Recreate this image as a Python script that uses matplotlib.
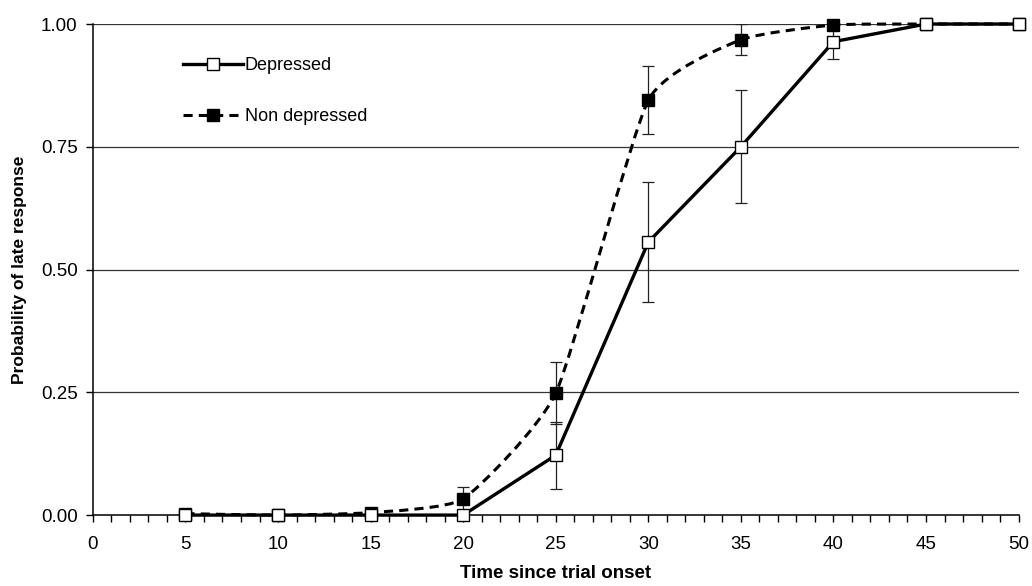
import numpy as np
import matplotlib.pyplot as plt
from matplotlib.path import Path
from matplotlib.patches import PathPatch
from matplotlib.lines import Line2D
from matplotlib.ticker import MultipleLocator, FormatStrFormatter

plt.rcParams['font.family'] = ['Liberation Sans', 'DejaVu Sans']

# values
time = [5, 10, 15, 20, 25, 30, 35, 40, 45, 50]
depressed = [0.0, 0.0, 0.0, 0.0, 0.122, 0.556, 0.750, 0.964, 1.0, 1.0]
depressed_err = [0, 0, 0, 0, 0.068, 0.123, 0.115, 0.036, 0, 0]
non_depressed = [0.003, 0.0, 0.005, 0.033, 0.248, 0.845, 0.968, 0.998, 1.0, 1.0]
non_depressed_err = [0, 0, 0, 0.024, 0.063, 0.069, 0.032, 0.003, 0, 0]


def smooth_path(xs, ys, k=12.0):
    # mildly smoothed line: cubic bezier segments through the points
    p = np.column_stack([xs, ys]).astype(float)
    verts = [p[0]]
    codes = [Path.MOVETO]
    n = len(p)
    for i in range(n - 1):
        prev = p[i - 1] if i > 0 else p[i]
        nxt = p[i + 2] if i + 2 < n else p[i + 1]
        c1 = p[i] + (p[i + 1] - prev) / k
        c2 = p[i + 1] - (nxt - p[i]) / k
        verts += [c1, c2, p[i + 1]]
        codes += [Path.CURVE4] * 3
    return Path(verts, codes)


dash = (0, (3.0, 2.0))

fig = plt.figure(figsize=(10.32, 5.86), dpi=100)
ax = fig.add_axes([0.090, 0.121, 0.897, 0.838])

ax.set_xlim(0, 50)
ax.set_ylim(0, 1)

for yv in [0.25, 0.5, 0.75, 1.0]:
    ax.axhline(yv, color='#333333', lw=0.9, zorder=1)

ax.add_patch(PathPatch(smooth_path(time, non_depressed), fill=False, ec='black',
                       lw=2.2, ls=dash, zorder=3, clip_on=False))
ax.plot(time, depressed, color='black', lw=2.4, zorder=3, clip_on=False)

t = np.array(time)
for vals, errs in [(depressed, depressed_err), (non_depressed, non_depressed_err)]:
    v = np.array(vals)
    e = np.array(errs)
    m = e > 0
    lo = e[m]
    hi = np.minimum(v[m] + e[m], 1.0) - v[m]
    ax.errorbar(t[m], v[m], yerr=[lo, hi], fmt='none', ecolor='#222222',
                elinewidth=0.9, capsize=4, capthick=0.9, zorder=2)

ax.plot(time, non_depressed, ls='none', marker='s', ms=8.5, mfc='black',
        mec='black', zorder=5, clip_on=False)
ax.plot(time, depressed, ls='none', marker='s', ms=8.5, mfc='white',
        mec='black', mew=1.0, zorder=6, clip_on=False)

h1 = Line2D([], [], color='black', lw=2.4, marker='s', ms=8.5, mfc='white', mec='black')
h2 = Line2D([], [], color='black', lw=2.2, ls=dash, marker='s', ms=8.5,
            mfc='black', mec='black')
ax.legend([h1, h2], ['Depressed', 'Non depressed'], loc='upper left',
          bbox_to_anchor=(0.08, 0.965), frameon=False, fontsize=13,
          handlelength=3.3, handletextpad=0.1, labelspacing=1.85)

ax.xaxis.set_major_locator(MultipleLocator(5))
ax.xaxis.set_minor_locator(MultipleLocator(1))
ax.yaxis.set_major_locator(MultipleLocator(0.25))
ax.yaxis.set_major_formatter(FormatStrFormatter('%.2f'))
ax.tick_params(axis='both', which='both', direction='out', length=5, width=1,
               labelsize=13.5, color='black')
ax.tick_params(axis='x', pad=10)
ax.tick_params(axis='y', pad=6)

for s in ['top', 'right']:
    ax.spines[s].set_visible(False)
for s in ['left', 'bottom']:
    ax.spines[s].set_linewidth(1.1)
    ax.spines[s].set_zorder(4)

ax.set_xlabel('Time since trial onset', fontsize=13.5, fontweight='bold', labelpad=9)
ax.set_ylabel('Probability of late response', fontsize=12.5, fontweight='bold', labelpad=10)

fig.savefig('out.png', dpi=100)
